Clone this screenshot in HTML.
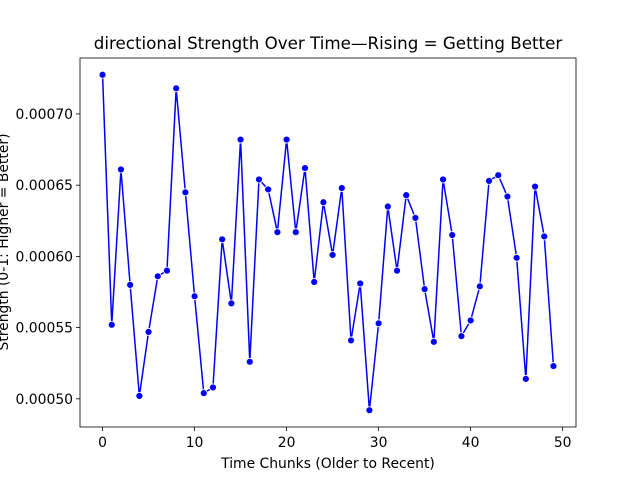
<!DOCTYPE html>
<html><head><meta charset="utf-8"><style>
html,body{margin:0;padding:0;background:#fff;width:640px;height:480px;overflow:hidden}
text{font-family:"DejaVu Sans","Liberation Sans",sans-serif;fill:#000}
</style></head><body>
<svg id="chart" width="640" height="480" xmlns="http://www.w3.org/2000/svg"></svg>
<script>
const xTicks = [0,10,20,30,40,50];
const yTicks = [0.0005,0.00055,0.0006,0.00065,0.0007];
const yTickLabels = ["0.00050","0.00055","0.00060","0.00065","0.00070"];
const values = [0.0007275,0.000552,0.000661,0.000580,0.000502,0.000547,0.000586,0.000590,0.000718,0.000645,
0.000572,0.000504,0.000508,0.000612,0.000567,0.000682,0.000526,0.000654,0.000647,0.000617,
0.000682,0.000617,0.000662,0.000582,0.000638,0.000601,0.000648,0.000541,0.000581,0.000492,
0.000553,0.000635,0.000590,0.000643,0.000627,0.000577,0.000540,0.000654,0.000615,0.000544,
0.000555,0.000579,0.000653,0.000657,0.000642,0.000599,0.000514,0.000649,0.000614,0.000523];

const NS="http://www.w3.org/2000/svg";
const svg=document.getElementById('chart');
const L=80,R=576,T=58,B=427;
const n=values.length;
const xMin=-0.05*(n-1), xMax=(n-1)*1.05;
const vmin=Math.min(...values), vmax=Math.max(...values), pad=(vmax-vmin)*0.05;
const yMin=vmin-pad, yMax=vmax+pad;
const sx=v=>L+(v-xMin)/(xMax-xMin)*(R-L);
const sy=v=>B-(v-yMin)/(yMax-yMin)*(B-T);
function mk(tag,attrs,parent){const e=document.createElementNS(NS,tag);for(const k in attrs)e.setAttribute(k,attrs[k]);(parent||svg).appendChild(e);return e;}

const title=mk('text',{x:328,y:49,'text-anchor':'middle','font-size':'16.7'});
title.textContent='directional Strength Over Time\u2014Rising = Getting Better';



xTicks.forEach(t=>{
  const x=sx(t);
  const tk=mk('line',{x1:x,x2:x,y1:B,y2:B+4,stroke:'#000','stroke-width':0.8});
  
  
  const lb=mk('text',{x:x,y:B+20,'text-anchor':'middle','font-size':'13.9'});
  lb.textContent=t;
  
  
});
yTicks.forEach((t,i)=>{
  const y=sy(t);
  const tk=mk('line',{x1:L-4,x2:L,y1:y,y2:y,stroke:'#000','stroke-width':0.8});
  
  
  const lb=mk('text',{x:L-7,y:y+5,'text-anchor':'end','font-size':'13.9'});
  lb.textContent=yTickLabels[i];
  
  
});
const xt=mk('text',{x:328,y:468,'text-anchor':'middle','font-size':'13.9'});
xt.textContent='Time Chunks (Older to Recent)';


const yt=mk('text',{x:0,y:0,'text-anchor':'middle','font-size':'13.9',transform:'translate(8,242) rotate(-90)'});
yt.textContent='Strength (0-1: Higher = Better)';



const pts=values.map((v,i)=>sx(i).toFixed(2)+','+sy(v).toFixed(2)).join(' ');
const line=mk('polyline',{points:pts,fill:'none',stroke:'#0000ff','stroke-width':1.5});


values.forEach((v,i)=>{
  const c=mk('circle',{cx:sx(i),cy:sy(v),r:3.5,fill:'#0000ff',stroke:'#fff','stroke-width':0.8});
  
  
});
const frame=mk('rect',{x:L,y:T,width:R-L,height:B-T,fill:'none',stroke:'#000','stroke-width':0.8});


</script>
</body></html>
